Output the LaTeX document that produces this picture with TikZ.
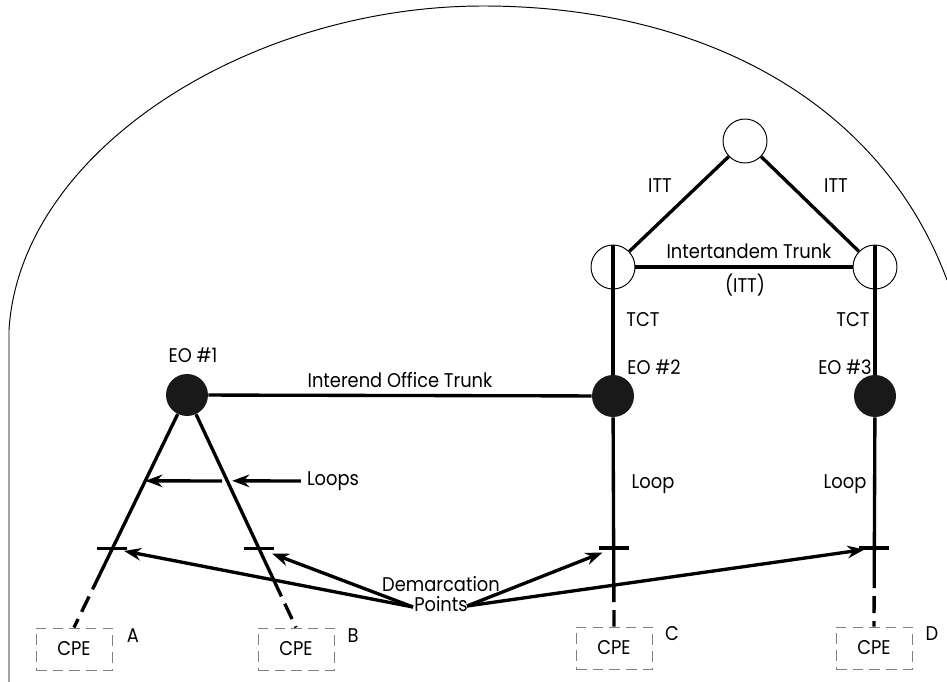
\documentclass[tikz,border=0pt]{standalone}
\usepackage{fontspec}
\setmainfont{Poppins}[FakeStretch=0.9]
\usetikzlibrary{positioning,arrows.meta,calc}

\begin{document}
\begin{tikzpicture}[x=0.02cm, y=-0.02cm,
  trk/.style={line width=1.9pt},
  arr/.style={-{Stealth[length=3.4mm, width=2.5mm]}, line width=1.9pt},
  eo/.style={circle, fill=black!90, minimum size=0.84cm, inner sep=0pt},
  tandem/.style={circle, draw, semithin, minimum size=0.88cm, inner sep=0pt},
  cpe/.style={draw=gray, dash pattern=on 6pt off 3.5pt, semithin, minimum width=1.52cm, minimum height=0.84cm, lab},
  drop/.style={line width=1.9pt, dash pattern=on 3.4mm off 1.6mm},
  lab/.style={font=\fontsize{11.3}{11.5}\selectfont},
  semithin/.style={line width=0.55pt}]
\useasboundingbox (0,0) rectangle (947,682);
% outer boundary
\draw[semithin] (9,682) -- (9,330) .. controls (20,150) and (250,6) .. (483,6)
  .. controls (700,6) and (880,100) .. (947,280);
% tandem switches
\node[tandem] (top) at (745,141) {};
\node[tandem] (tl) at (613,267) {};
\node[tandem] (tr) at (875,267) {};
\draw[trk] (top) -- (tl);
\draw[trk] (top) -- (tr);
\draw[trk] (tl) -- (tr);
\node[lab] at (660,186) {ITT};
\node[lab] at (836,186) {ITT};
\node[lab] at (749,251) {Intertandem Trunk};
\node[lab] at (745,285) {(ITT)};
% end offices
\node[eo] (eo1) at (187,395) {};
\node[eo] (eo2) at (613,396) {};
\node[eo] (eo3) at (875,396) {};
\node[lab] at (193,355) {EO \#1};
\node[lab] at (654,367) {EO \#2};
\node[lab] at (845,367) {EO \#3};
\draw[trk] (eo1) -- (eo2) node[midway, above=0mm, lab] {Interend Office Trunk};
\draw[trk] (tl.north) -- (eo2);
\draw[trk] (tr.north) -- (eo3);
\node[lab] at (643,320) {TCT};
\node[lab] at (853,320) {TCT};
% customer premises
\node[cpe] (cpeA) at (74,649) {CPE};
\node[cpe] (cpeB) at (296,649) {CPE};
\node[cpe] (cpeC) at (614,648) {CPE};
\node[cpe] (cpeD) at (874,648) {CPE};
\node[lab] at (133,636) {A};
\node[lab] at (353,636) {B};
\node[lab] at (672,634) {C};
\node[lab] at (932,634) {D};
% loops
\coordinate (tkA) at ($(eo1)!0.661!(cpeA.north)$);
\coordinate (tkB) at ($(eo1)!0.661!(cpeB.north)$);
\coordinate (tkC) at ($(eo2)!0.66!(cpeC.north)$);
\coordinate (tkD) at ($(eo3)!0.66!(cpeD.north)$);
\coordinate (dA) at ($(eo1)!0.77!(cpeA.north)$);
\coordinate (dB) at ($(eo1)!0.80!(cpeB.north)$);
\coordinate (dC) at ($(eo2)!0.82!(cpeC.north)$);
\coordinate (dD) at ($(eo3)!0.76!(cpeD.north)$);
\draw[trk] (eo1) -- (dA);
\draw[trk] (eo1) -- (dB);
\draw[trk] (eo2) -- (dC);
\draw[trk] (eo3) -- (dD);
\draw[drop] (dA) -- (cpeA.north);
\draw[drop] (dB) -- (cpeB.north);
\draw[drop] (dC) -- (cpeC.north);
\draw[drop] (dD) -- (cpeD.north);
\foreach \t in {tkA,tkB,tkC,tkD}
  \draw[trk] ($(\t)+(-15,0)$) -- ($(\t)+(15,0)$);
\coordinate (lpA) at ($(eo1)!0.369!(cpeA.north)$);
\coordinate (lpB) at ($(eo1)!0.369!(cpeB.north)$);
\coordinate (lpS) at (222,481);
\node[lab] (loops) at (333,481) {Loops};
\draw[arr] (lpS) -- (lpA);
\draw[arr, shorten >=1mm] (loops.west) -- (lpB);
\node[lab] at (653,484) {Loop};
\node[lab] at (845,484) {Loop};
% demarcation points
\node[lab, align=center] (demarc) at (441,594) {Demarcation\\Points};
\coordinate (dmL) at (413,607);
\coordinate (dmR) at (467,606);
\draw[arr, shorten >=2.4mm] (dmL) -- (tkA);
\draw[arr, shorten >=2.8mm] (dmL) -- (tkB);
\draw[arr, shorten >=2.4mm] (dmR) -- (tkC);
\draw[arr, shorten >=2.0mm] (dmR) -- (tkD);
\end{tikzpicture}
\end{document}
